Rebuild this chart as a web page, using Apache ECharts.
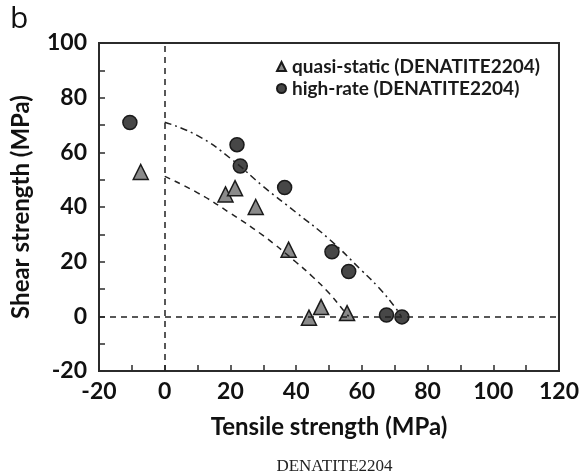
<!DOCTYPE html>
<html>
<head>
<meta charset="utf-8">
<script src="https://cdn.jsdelivr.net/npm/echarts@6/dist/echarts.min.js"></script>
<style>html,body{margin:0;padding:0;background:#fff}#c{width:582px;height:473px}</style>
</head>
<body>
<div id="c"></div>
<script>
// Data
var quasiStatic = [[-7.3,52.8],[18.5,44.6],[21.4,46.9],[27.7,40],[37.7,24.4],[43.9,-0.5],[47.6,3.4],[55.5,1.2]];
var highRate = [[-10.6,70.9],[22,62.8],[23,55],[36.5,47.1],[50.9,23.6],[56,16.4],[67.5,0.5],[72.2,-0.2]];
var highRateEnvelope = [[0,71],[10,66.1],[20,57.8],[30,47.5],[40,38],[50,28.3],[60,16.7],[65,10.7],[70,3.5],[72,0]];
var quasiEnvelope = [[0,51.2],[10,45.2],[20,37.7],[30,29.5],[40,19.8],[45,14.5],[50,8.5],[55,1.3],[56,0]];
var seriesNames = ['quasi-static (DENATITE2204)', 'high-rate (DENATITE2204)'];
var xRange = [-20, 120];
var yRange = [-20, 100];

var FONT = 'Lato';
var chart = echarts.init(document.getElementById('c'), null, {renderer: 'canvas'});
var axisCol = '#2b2b2b';
chart.setOption({
  animation: false,
  backgroundColor: '#fff',
  title: {
    text: 'DENATITE2204',
    left: 329.5, textAlign: 'center', top: 453,
    textStyle: {fontFamily: 'Liberation Serif', fontWeight: 'normal', fontSize: 17, color: '#222'}
  },
  graphic: [{
    type: 'text', left: 10, top: 4,
    style: {text: 'b', font: '30px "Open Sans"', fill: '#111'}
  }],
  legend: {
    data: [{name: seriesNames[0], icon: 'triangle'}, {name: seriesNames[1], icon: 'circle'}],
    orient: 'vertical', left: 271, top: 52,
    itemWidth: 9, itemHeight: 9, itemGap: 3,
    textStyle: {fontFamily: FONT, fontWeight: 'bold', fontSize: 19, color: '#1a1a1a', padding: [0,0,0,1]}
  },
  grid: {left: 99, right: 22, top: 43, bottom: 102, show: true, borderColor: axisCol, borderWidth: 2, backgroundColor: 'transparent'},
  xAxis: {
    type: 'value', min: xRange[0], max: xRange[1], interval: 20,
    name: 'Tensile strength (MPa)', nameLocation: 'middle', nameGap: 44,
    nameTextStyle: {fontFamily: FONT, fontWeight: 'bold', fontSize: 24, color: '#111'},
    axisLine: {onZero: false, lineStyle: {color: axisCol, width: 2}},
    axisTick: {inside: true, length: 6, lineStyle: {color: axisCol, width: 1.5}},
    minorTick: {show: true, splitNumber: 2, length: 6, lineStyle: {color: axisCol, width: 1.5}},
    axisLabel: {fontFamily: FONT, fontWeight: 'bold', fontSize: 23, color: '#111', margin: 9},
    splitLine: {show: false}
  },
  yAxis: {
    type: 'value', min: yRange[0], max: yRange[1], interval: 20,
    name: 'Shear strength (MPa)', nameLocation: 'middle', nameGap: 66,
    nameTextStyle: {fontFamily: FONT, fontWeight: 'bold', fontSize: 24, color: '#111'},
    axisLine: {onZero: false, lineStyle: {color: axisCol, width: 2}},
    axisTick: {inside: true, length: 6, lineStyle: {color: axisCol, width: 1.5}},
    minorTick: {show: true, splitNumber: 2, length: 6, lineStyle: {color: axisCol, width: 1.5}},
    axisLabel: {fontFamily: FONT, fontWeight: 'bold', fontSize: 23, color: '#111', margin: 12},
    splitLine: {show: false}
  },
  series: [
    {
      type: 'line', name: 'refs', data: [], silent: true,
      markLine: {symbol: 'none', silent: true, label: {show: false},
        lineStyle: {color: '#222', width: 1.5, type: [6, 5]},
        data: [{xAxis: 0}, {yAxis: 0}]}
    },
    {
      type: 'line', name: 'qsEnv', data: quasiEnvelope, smooth: true, showSymbol: false, silent: true,
      lineStyle: {color: '#222', width: 1.5, type: [6, 5]}
    },
    {
      type: 'line', name: 'hrEnv', data: highRateEnvelope, smooth: true, showSymbol: false, silent: true,
      lineStyle: {color: '#222', width: 1.5, type: [7, 4, 2, 4]}
    },
    {
      type: 'scatter', name: seriesNames[0], data: quasiStatic, symbol: 'triangle', symbolSize: 15,
      itemStyle: {color: '#8a8a8a', borderColor: '#1a1a1a', borderWidth: 1.5, opacity: 1}
    },
    {
      type: 'scatter', name: seriesNames[1], data: highRate, symbol: 'circle', symbolSize: 14,
      itemStyle: {color: '#474747', borderColor: '#1a1a1a', borderWidth: 1.5, opacity: 1}
    }
  ]
});
</script>
</body>
</html>
